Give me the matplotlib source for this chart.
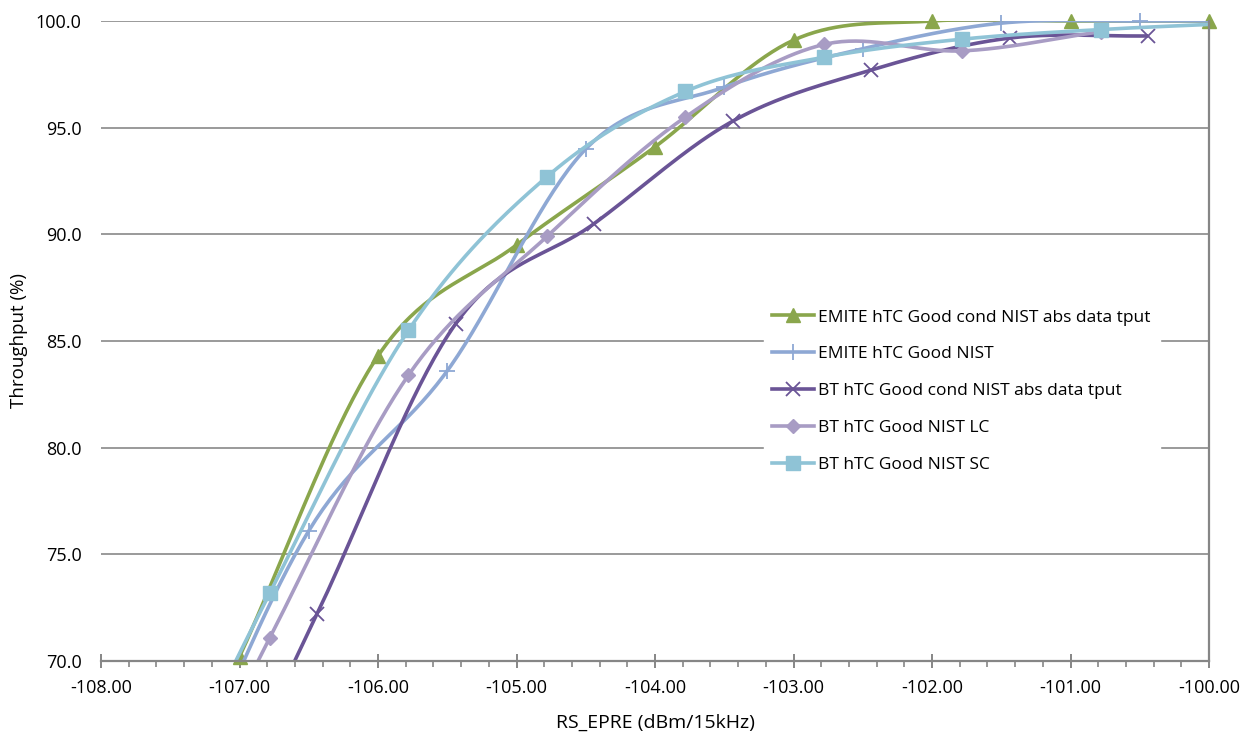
import numpy as np
import matplotlib
matplotlib.use("Agg")
import matplotlib.pyplot as plt
from matplotlib.ticker import MultipleLocator, FormatStrFormatter

# values (points outside the axes are only there so the
# clipped curve ends look right)
emite_cond_x = [-108.0, -107.0, -106.0, -105.0, -104.0, -103.0, -102.0, -101.0, -100.0]
emite_cond_y = [56.0, 70.2, 84.3, 89.5, 94.1, 99.1, 100.0, 100.0, 100.0]

emite_nist_x = [-107.5, -106.5, -105.5, -104.5, -103.5, -102.5, -101.5, -100.5, -99.5]
emite_nist_y = [62.2, 76.1, 83.6, 94.0, 96.9, 98.7, 99.9, 100.0, 100.0]

bt_cond_x = [-107.44, -106.44, -105.44, -104.44, -103.44, -102.44, -101.44, -100.44]
bt_cond_y = [58.5, 72.2, 85.8, 90.5, 95.3, 97.7, 99.2, 99.3]

bt_lc_x = [-107.78, -106.78, -105.78, -104.78, -103.78, -102.78, -101.78, -100.78]
bt_lc_y = [58.0, 71.1, 83.4, 89.9, 95.5, 98.9, 98.6, 99.5]

bt_sc_x = [-107.78, -106.78, -105.78, -104.78, -103.78, -102.78, -101.78, -100.78, -99.78]
bt_sc_y = [60.0, 73.2, 85.5, 92.7, 96.7, 98.3, 99.15, 99.6, 99.9]

labels = ["EMITE hTC Good cond NIST abs data tput",
          "EMITE hTC Good NIST",
          "BT hTC Good cond NIST abs data tput",
          "BT hTC Good NIST LC",
          "BT hTC Good NIST SC"]


def smooth(x, y, n=40):
    # catmull-rom, roughly what excel does for "smoothed line"
    x = np.asarray(x, float)
    y = np.asarray(y, float)
    px = np.concatenate([[2 * x[0] - x[1]], x, [2 * x[-1] - x[-2]]])
    py = np.concatenate([[2 * y[0] - y[1]], y, [2 * y[-1] - y[-2]]])
    xs, ys = [], []
    t = np.linspace(0, 1, n)
    for i in range(1, len(px) - 2):
        b0x, b3x = px[i], px[i + 1]
        b0y, b3y = py[i], py[i + 1]
        b1x = b0x + (px[i + 1] - px[i - 1]) / 6
        b1y = b0y + (py[i + 1] - py[i - 1]) / 6
        b2x = b3x - (px[i + 2] - px[i]) / 6
        b2y = b3y - (py[i + 2] - py[i]) / 6
        xs.append((1-t)**3*b0x + 3*(1-t)**2*t*b1x + 3*(1-t)*t**2*b2x + t**3*b3x)
        ys.append((1-t)**3*b0y + 3*(1-t)**2*t*b1y + 3*(1-t)*t**2*b2y + t**3*b3y)
    return np.concatenate(xs), np.concatenate(ys)


plt.rcParams['font.family'] = ['Open Sans', 'DejaVu Sans']

fig = plt.figure(figsize=(12.42, 7.35), dpi=100)
ax = fig.add_axes([101/1242, 1 - 661/735, (1209-101)/1242, (661-21)/735])

series = [
    (emite_cond_x, emite_cond_y, '#8aa64c', '^', 10, 0),
    (emite_nist_x, emite_nist_y, '#8ea8d4', '+', 12, 1.3),
    (bt_cond_x, bt_cond_y, '#6a5496', 'x', 10, 1.3),
    (bt_lc_x, bt_lc_y, '#a89cc4', 'D', 7, 0),
    (bt_sc_x, bt_sc_y, '#8fc3d6', 's', 10, 0),
]

for (xv, yv, col, mk, ms, mew), lab in zip(series, labels):
    sx, sy = smooth(xv, yv)
    ax.plot(sx, sy, color=col, lw=2.6, solid_capstyle='butt')
    xa, ya = np.array(xv), np.array(yv)
    keep = (xa >= -108) & (xa <= -100) & (ya >= 70)
    ax.plot(xa[keep], ya[keep], ls='none', marker=mk, ms=ms, color=col,
            mew=mew if mew else 1, clip_on=False)
    ax.plot([], [], color=col, lw=2.6, marker=mk, ms=ms, mew=mew if mew else 1, label=lab)

ax.set_xlim(-108, -100)
ax.set_ylim(70, 100)
ax.xaxis.set_major_locator(MultipleLocator(1))
ax.xaxis.set_minor_locator(MultipleLocator(0.2))
ax.yaxis.set_major_locator(MultipleLocator(5))
ax.xaxis.set_major_formatter(FormatStrFormatter('%.2f'))
ax.yaxis.set_major_formatter(FormatStrFormatter('%.1f'))

ax.grid(axis='y', color='#9a9a9a', lw=1.4)
ax.set_axisbelow(True)
for s in ['top', 'left']:
    ax.spines[s].set_visible(False)
for s in ['bottom', 'right']:
    ax.spines[s].set_color('#868686')
    ax.spines[s].set_linewidth(1.6)

ax.tick_params(axis='x', which='major', direction='inout', length=10, width=1.4,
               color='#868686', labelsize=13, pad=8)
ax.tick_params(axis='x', which='minor', direction='out', length=4, width=1.2, color='#868686')
ax.tick_params(axis='y', length=0, labelsize=13, pad=14)

ax.set_xlabel('RS_EPRE (dBm/15kHz)', fontsize=14, labelpad=12)
ax.set_ylabel('Throughput (%)', fontsize=13.5)
ax.yaxis.set_label_coords(-0.066, 0.5)

leg = ax.legend(loc='upper left', bbox_to_anchor=(755/1242, 1 - 292/735),
                bbox_transform=fig.transFigure, frameon=True, fontsize=12.5,
                numpoints=1, handlelength=2.4, handletextpad=0.25,
                labelspacing=1.2, borderpad=0.5, fancybox=False)
leg.get_frame().set_edgecolor('white')
leg.get_frame().set_facecolor('white')
leg.get_frame().set_alpha(1)

fig.savefig('out.png', dpi=100)
